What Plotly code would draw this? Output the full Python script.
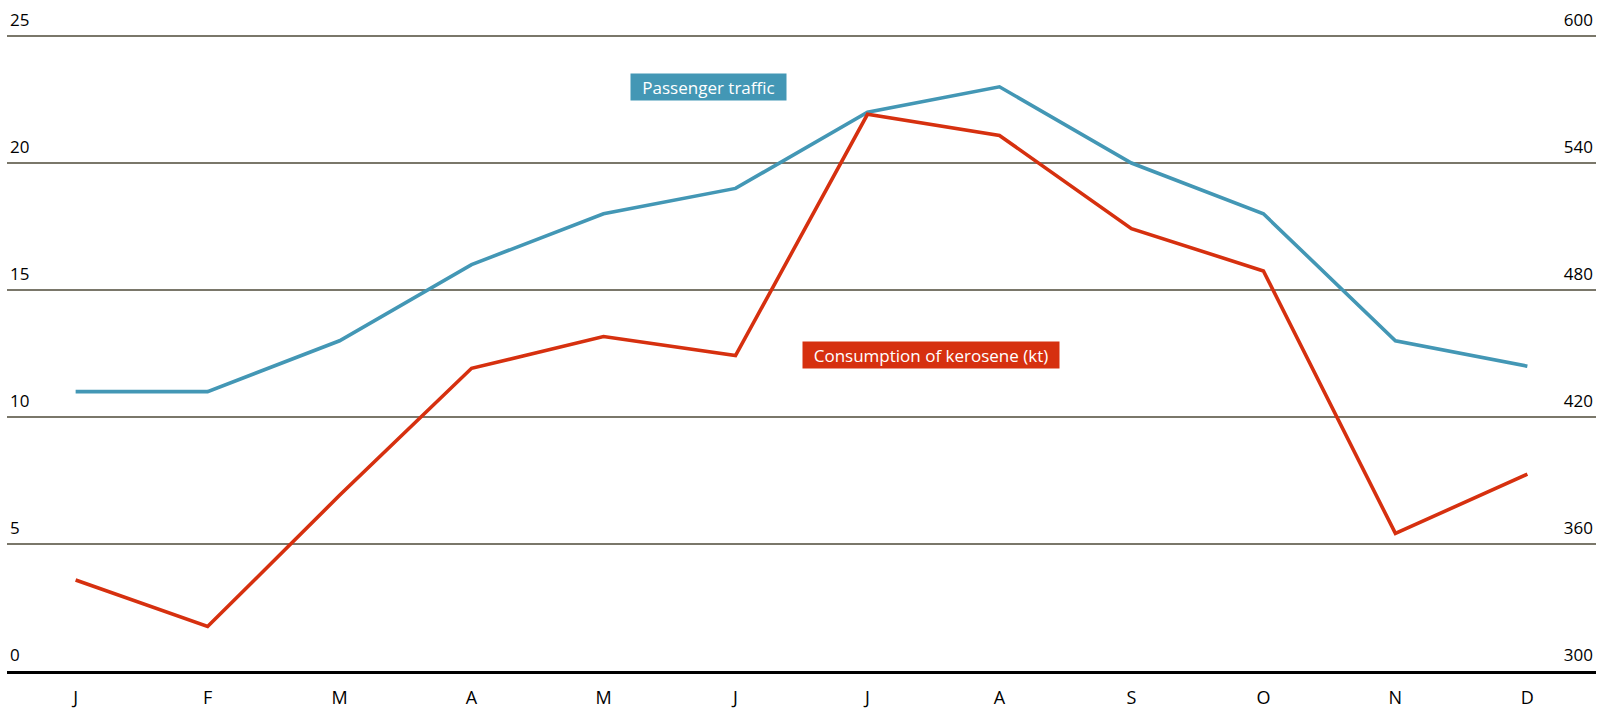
import plotly.graph_objects as go

# Monthly values
months = ["J", "F", "M", "A", "M", "J", "J", "A", "S", "O", "N", "D"]
passenger_traffic = [11, 11, 13, 16, 18, 19, 22, 23, 20, 18, 13, 12]
kerosene_kt = [343, 321, 383, 443, 458, 449, 563, 553, 509, 489, 365, 393]

left_ticks = [0, 5, 10, 15, 20, 25]
right_ticks = [300, 360, 420, 480, 540, 600]

BLUE = "#4397b5"
RED = "#d6300f"
GRID = "#7a776a"
FONT = "Open Sans"

W, H = 1616, 710
ML, MR, MT, MB = 7, 20, 8, 39
PW, PH = W - ML - MR, H - MT - MB

# left axis: 25.4 px per unit so that 25 sits 36 px below the top edge
LEFT_TOP = PH / 25.4
RIGHT_TOP = 300 + LEFT_TOP * 12

x = list(range(len(months)))

fig = go.Figure()
fig.add_trace(go.Scatter(x=x, y=passenger_traffic, mode="lines",
                         line=dict(color=BLUE, width=3.6), yaxis="y",
                         name="Passenger traffic", showlegend=False))
fig.add_trace(go.Scatter(x=x, y=kerosene_kt, mode="lines",
                         line=dict(color=RED, width=3.6), yaxis="y2",
                         name="Consumption of kerosene (kt)", showlegend=False))


def px_to_paper(px, py):
    return (px - ML) / PW, (H - MB - py) / PH


# series labels: (text, colour, centre in px, box width, box height)
for text, color, (cx, cy), bw, bh in [
        ("Passenger traffic", BLUE, (708, 87), 155, 26),
        ("Consumption of kerosene (kt)", RED, (931, 355), 256, 26)]:
    ax, ay = px_to_paper(cx, cy)
    fig.add_annotation(x=ax, y=ay, xref="paper", yref="paper", text=text,
                       showarrow=False, bgcolor=color, borderpad=2,
                       width=bw - 4, height=bh - 4, align="center",
                       font=dict(family=FONT, size=17, color="white"),
                       xanchor="center", yanchor="middle")

fig.update_layout(
    width=W, height=H,
    margin=dict(l=ML, r=MR, t=MT, b=MB, autoexpand=False),
    paper_bgcolor="white", plot_bgcolor="white",
    font=dict(family=FONT, color="#000000"),
    xaxis=dict(tickmode="array", tickvals=x, ticktext=months,
               range=[-0.52, 11.52], showgrid=False, zeroline=False,
               showline=True, linecolor="#000000", linewidth=2.5,
               ticks="", ticklabelstandoff=9, automargin=False,
               tickfont=dict(family=FONT, size=18, color="#000000")),
    yaxis=dict(range=[0, LEFT_TOP], tickvals=left_ticks, showgrid=True,
               gridcolor=GRID, gridwidth=2, zeroline=False, showline=False,
               ticklabelposition="inside top", automargin=False,
               ticklabelshift=-4,
               tickfont=dict(family=FONT, size=17, color="#000000"),
               ticks=""),
    yaxis2=dict(range=[300, RIGHT_TOP], tickvals=right_ticks, overlaying="y",
                side="right", showgrid=False, zeroline=False, showline=False,
                ticklabelposition="inside top", automargin=False,
                ticklabelshift=-4,
                tickfont=dict(family=FONT, size=17, color="#000000"),
                ticks=""),
)

fig.write_html("out.html")
